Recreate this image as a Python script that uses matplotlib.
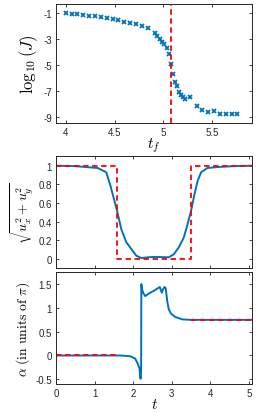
import matplotlib
matplotlib.use("Agg")
import matplotlib.pyplot as plt
import numpy as np

# ---- data ----
tf = [4.00, 4.06, 4.12, 4.18, 4.24, 4.30, 4.36, 4.42, 4.48, 4.54, 4.60, 4.66,
      4.72, 4.78, 4.84, 4.91, 4.94, 4.97, 4.99, 5.01, 5.04, 5.06, 5.08, 5.10,
      5.12, 5.14, 5.16, 5.18, 5.20, 5.22, 5.27, 5.34, 5.40, 5.46, 5.52, 5.58,
      5.64, 5.70, 5.76]
logJ = [-1.00, -1.05, -1.05, -1.15, -1.21, -1.25, -1.31, -1.41, -1.46, -1.56,
        -1.67, -1.77, -1.87, -2.03, -2.18, -2.57, -2.80, -3.01, -3.21, -3.42,
        -3.73, -4.19, -4.91, -5.68, -6.35, -6.66, -7.07, -7.33, -7.48, -7.64,
        -7.48, -8.15, -8.46, -8.62, -8.56, -8.77, -8.77, -8.82, -8.82]
tf_opt = 5.08

t_u = [0.0, 0.5, 1.08, 1.30, 1.40, 1.49, 1.58, 1.69, 1.82, 1.95, 2.08, 2.21,
       2.44, 2.60, 2.92, 3.05, 3.18, 3.31, 3.41, 3.50, 3.59, 3.67, 3.76, 3.92,
       4.17, 4.60, 5.08]
u_mag = [1.0, 0.995, 0.975, 0.93, 0.80, 0.66, 0.52, 0.32, 0.18, 0.107, 0.035,
         0.01, 0.02, 0.022, 0.018, 0.05, 0.125, 0.23, 0.375, 0.52, 0.70, 0.84,
         0.93, 0.975, 0.985, 0.995, 1.0]

t_bang = [0.0, 1.58, 1.58, 3.50, 3.50, 5.08]
u_bang = [1.0, 1.0, 0.0, 0.0, 1.0, 1.0]

t_a = [0.0, 1.66, 1.92, 2.05, 2.11, 2.16, 2.19, 2.205, 2.21, 2.24, 2.27, 2.31,
       2.40, 2.53, 2.63, 2.69, 2.74, 2.77, 2.81, 2.84, 2.88, 2.92, 2.98, 3.09,
       3.27, 3.48, 5.08]
alpha = [0.0, 0.0, -0.015, -0.065, -0.16, -0.26, -0.49, -0.3, 1.5, 1.36, 1.30,
         1.25, 1.30, 1.36, 1.41, 1.44, 1.32, 1.39, 1.44, 1.42, 1.15, 0.97, 0.88,
         0.81, 0.76, 0.75, 0.75]
t_a_ref1 = [0.0, 1.58]
a_ref1 = [0.0, 0.0]
t_a_ref2 = [3.50, 5.08]
a_ref2 = [0.75, 0.75]

# ---- style ----
plt.rcParams['mathtext.fontset'] = 'cm'
plt.rcParams['axes.unicode_minus'] = False
plt.rcParams['font.family'] = ['Liberation Sans', 'DejaVu Sans']
blue = '#0072BD'
red = '#FF0000'
axc = '#262626'

fig = plt.figure(figsize=(2.57, 4.14), dpi=100)
ax1 = fig.add_axes([0.218, 0.7005, 0.763, 0.2875])
ax2 = fig.add_axes([0.218, 0.3495, 0.763, 0.272])
ax3 = fig.add_axes([0.218, 0.070, 0.763, 0.271])

for ax in (ax1, ax2, ax3):
    ax.tick_params(direction='in', top=True, right=True, labelsize=7,
                   length=2.5, width=0.6, colors=axc, pad=3)
    for s in ax.spines.values():
        s.set_linewidth(0.7)
        s.set_color(axc)

dash = (0, (3.0, 2.0))

ax1.plot(tf, logJ, linestyle='none', marker='x', color=blue, markersize=3.5,
         markeredgewidth=1.3)
ax1.axvline(tf_opt, color=red, linestyle=dash, linewidth=1.3)
ax1.set_xlim(3.9, 5.91)
ax1.set_ylim(-9.5, -0.3)
ax1.set_xticks([4, 4.5, 5, 5.5])
ax1.set_xticklabels(['4', '4.5', '5', '5.5'])
ax1.set_yticks([-1, -3, -5, -7, -9])
ax1.set_xlabel(r'$t_f$', fontsize=11, labelpad=-1)
ax1.set_ylabel(r'$\log_{10}(J)$', fontsize=12, labelpad=2)

ax2.plot(t_u, u_mag, color=blue, linewidth=1.4)
ax2.plot(t_bang, u_bang, color=red, linestyle=dash, linewidth=1.3)
ax2.set_xlim(0, 5.08)
ax2.set_ylim(-0.1, 1.107)
ax2.set_xticks([0, 1, 2, 3, 4, 5])
ax2.set_xticklabels([])
ax2.set_yticks([0, 0.2, 0.4, 0.6, 0.8, 1])
ax2.set_yticklabels(['0', '0.2', '0.4', '0.6', '0.8', '1'])
ax2.set_ylabel(r'$\sqrt{u_x^2+u_y^2}$', fontsize=10, labelpad=2)

ax3.plot(t_a, alpha, color=blue, linewidth=1.4)
ax3.plot(t_a_ref1, a_ref1, color=red, linestyle=dash, linewidth=1.3)
ax3.plot(t_a_ref2, a_ref2, color=red, linestyle=dash, linewidth=1.3)
ax3.set_xlim(0, 5.08)
ax3.set_ylim(-0.6, 1.76)
ax3.set_xticks([0, 1, 2, 3, 4, 5])
ax3.set_yticks([-0.5, 0, 0.5, 1, 1.5])
ax3.set_yticklabels(['-0.5', '0', '0.5', '1', '1.5'])
ax3.set_xlabel(r'$t$', fontsize=11, labelpad=-1)
ax3.set_ylabel(r'$\alpha\ \mathrm{(in\ units\ of\ }\pi\mathrm{)}$', fontsize=9.8,
               labelpad=2)

fig.savefig('out.png', dpi=100)
